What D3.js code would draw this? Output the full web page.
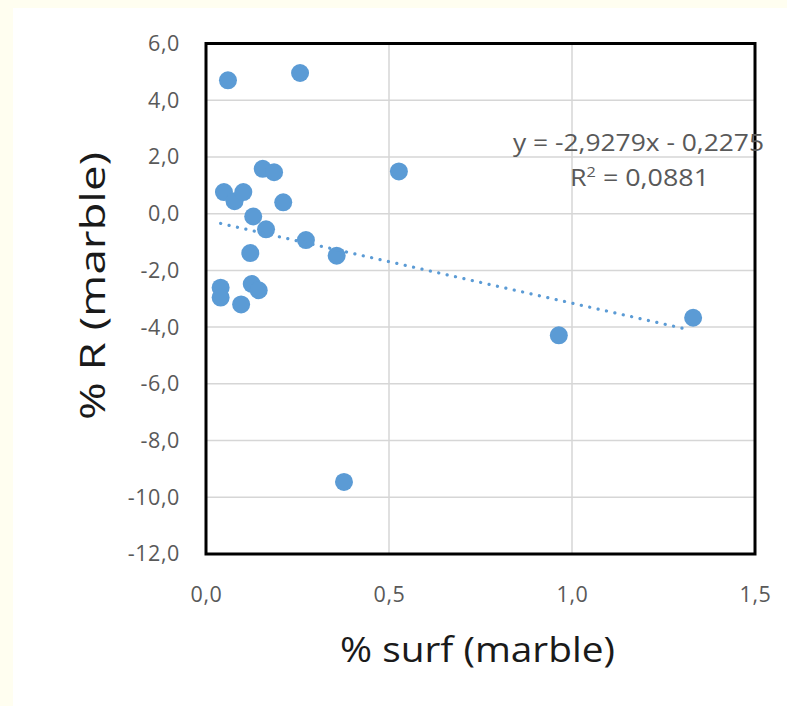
<!DOCTYPE html>
<html><head><meta charset="utf-8">
<script src="https://cdn.jsdelivr.net/npm/d3@7"></script>
<style>
html,body{margin:0;padding:0;background:#fff;}
svg{display:block;}
</style></head>
<body>
<script>
const surf = [0.060, 0.257, 0.049, 0.078, 0.102, 0.155, 0.186, 0.211, 0.129, 0.164, 0.273, 0.121, 0.357, 0.527, 0.040, 0.040, 0.096, 0.125, 0.144, 0.964, 1.331, 0.377];
const rVals = [4.70, 4.96, 0.76, 0.44, 0.76, 1.58, 1.46, 0.40, -0.10, -0.55, -0.93, -1.39, -1.48, 1.49, -2.61, -2.96, -3.20, -2.48, -2.70, -4.29, -3.67, -9.46];
const xTicks = [0, 0.5, 1.0, 1.5];
const yTicks = [6, 4, 2, 0, -2, -4, -6, -8, -10, -12];
const slope = -2.9279, intercept = -0.2275, r2 = "0,0881";
const xTitle = "% surf (marble)", yTitle = "% R (marble)";

const W = 787, H = 706;
const m = {left: 206, right: 755, top: 43.5, bottom: 554};
const svg = d3.select("body").append("svg").attr("width", W).attr("height", H);
svg.append("rect").attr("width", W).attr("height", H).attr("fill", "#fffef0");
svg.append("rect").attr("x", 13).attr("y", 8).attr("width", W - 13).attr("height", H - 8).attr("fill", "#fff");

const x = d3.scaleLinear().domain([0, 1.5]).range([m.left, m.right]);
const y = d3.scaleLinear().domain([-12, 6]).range([m.bottom, m.top]);
const fmt = v => d3.format(".1f")(v).replace(".", ",").replace("−", "-");
const font = "'Open Sans', Lato, sans-serif";

// gridlines
const grid = svg.append("g");
grid.selectAll("line.h").data(yTicks).join("line")
  .attr("x1", m.left).attr("x2", m.right).attr("y1", d => y(d)).attr("y2", d => y(d))
  .attr("stroke", "#d6d6d6").attr("stroke-width", 1.5);
grid.selectAll("line.v").data(xTicks).join("line")
  .attr("y1", m.top).attr("y2", m.bottom).attr("x1", d => x(d)).attr("x2", d => x(d))
  .attr("stroke", "#d6d6d6").attr("stroke-width", 1.5);

// axes (labels only)
const xAxis = svg.append("g").attr("transform", `translate(0,${m.bottom})`)
  .call(d3.axisBottom(x).tickValues(xTicks).tickFormat(fmt).tickSize(0).tickPadding(33));
const yAxis = svg.append("g").attr("transform", `translate(${m.left},0)`)
  .call(d3.axisLeft(y).tickValues(yTicks).tickFormat(fmt).tickSize(0).tickPadding(26));
[xAxis, yAxis].forEach(a => {
  a.select(".domain").remove();
  a.selectAll("text").attr("fill", "#595959").style("font-family", font).style("font-size", "21.5px")
    .style("letter-spacing", "0.6px");
});

// border
svg.append("rect").attr("x", m.left).attr("y", m.top).attr("width", m.right - m.left).attr("height", m.bottom - m.top)
  .attr("fill", "none").attr("stroke", "#000").attr("stroke-width", 3);

// points
const data = surf.map((s, i) => ({s, r: rVals[i]}));
svg.append("g").selectAll("circle").data(data).join("circle")
  .attr("cx", d => x(d.s)).attr("cy", d => y(d.r)).attr("r", 9)
  .attr("fill", "#5b9bd5");

// trendline
const xmin = d3.min(surf), xmax = 1.31;
svg.append("line")
  .attr("x1", x(xmin)).attr("y1", y(slope * xmin + intercept))
  .attr("x2", x(xmax)).attr("y2", y(slope * xmax + intercept))
  .attr("stroke", "#5b9bd5").attr("stroke-width", 3.2)
  .attr("stroke-dasharray", "0.1 8.5").attr("stroke-linecap", "round");

// equation
const eq = svg.append("g").style("font-family", font).style("font-size", "23px").attr("fill", "#595959");
eq.append("text").attr("x", 513).attr("y", 151)
  .attr("textLength", 251).attr("lengthAdjust", "spacingAndGlyphs")
  .text("y = -2,9279x - 0,2275");
const r2t = eq.append("text").attr("x", 570).attr("y", 186)
  .attr("textLength", 139).attr("lengthAdjust", "spacingAndGlyphs");
r2t.append("tspan").text("R");
r2t.append("tspan").attr("dy", -9).style("font-size", "14px").text("2");
r2t.append("tspan").attr("dy", 9).text(" = " + r2);

// titles
svg.append("text").attr("x", 340).attr("y", 662)
  .attr("textLength", 275).attr("lengthAdjust", "spacingAndGlyphs")
  .style("font-family", font).style("font-size", "35px").attr("fill", "#1a1a1a").text(xTitle);
svg.append("text").attr("transform", "translate(105,420) rotate(-90)")
  .attr("textLength", 268).attr("lengthAdjust", "spacingAndGlyphs")
  .style("font-family", font).style("font-size", "35px").attr("fill", "#1a1a1a").text(yTitle);
</script>
</body></html>
